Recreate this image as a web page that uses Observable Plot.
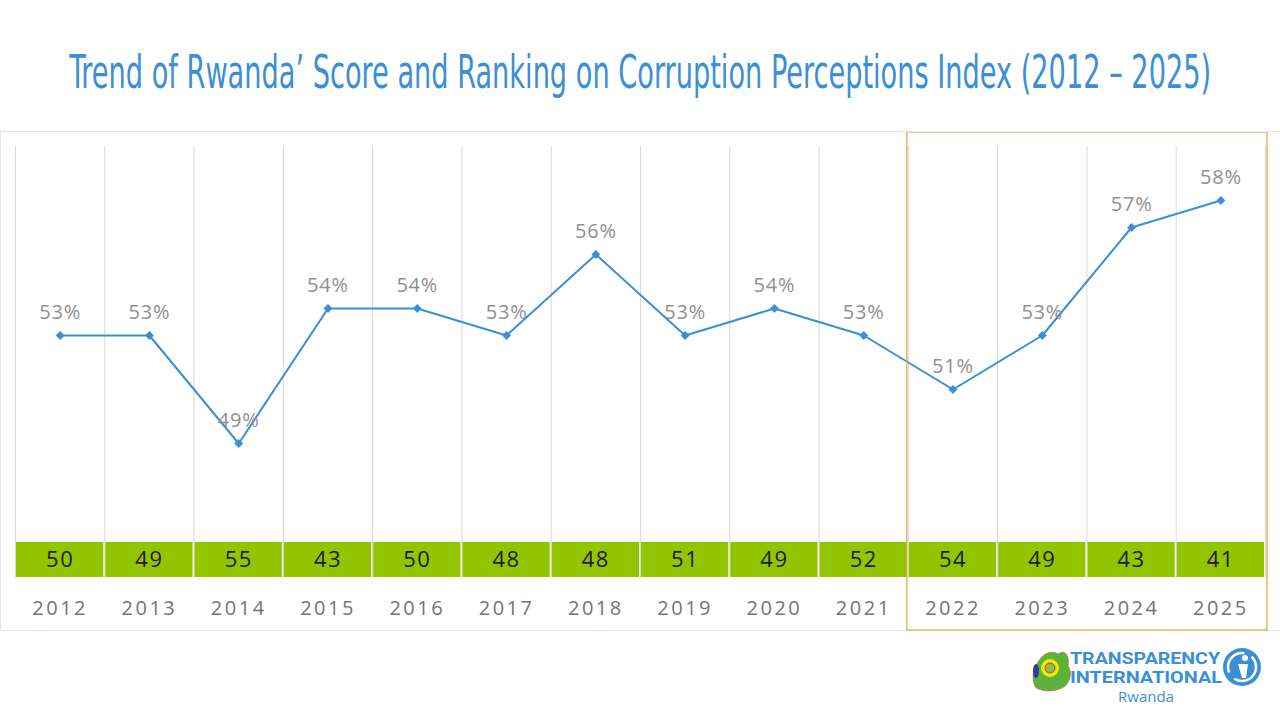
<!DOCTYPE html>
<html>
<head>
<meta charset="utf-8">
<script src="https://cdn.jsdelivr.net/npm/d3@7"></script>
<script src="https://cdn.jsdelivr.net/npm/@observablehq/plot@0.6"></script>
<style>
  html, body { margin: 0; padding: 0; background: #fff; width: 1280px; height: 720px; overflow: hidden; }
  #title { position: absolute; left: 0; top: 44px; width: 1280px; display: flex; justify-content: center;
    font-family: "Liberation Sans Narrow", "DejaVu Sans Condensed", "Roboto", sans-serif;
    font-size: 46px; color: #3C8FD6; white-space: nowrap; line-height: 56px; }
  #title span { display: inline-block; flex: none; transform-origin: center; }
  #panel { position: absolute; left: 0; top: 131px; width: 1279px; height: 498px; border: 1px solid #e8e8e8; }
  #chart { position: absolute; left: 0; top: 132px; }
  #logo { position: absolute; left: 1028px; top: 644px; width: 240px; height: 64px; }
</style>
</head>
<body>
<div id="title"><span id="titleText">Trend of Rwanda’ Score and Ranking on Corruption Perceptions Index (2012 – 2025)</span></div>
<div id="panel"></div>
<div id="chart"></div>
<div id="logo">
  <svg width="240" height="64" viewBox="0 0 240 64">
    <path d="M8,22 C14,8 24,6 30,10 C38,4 42,14 40,22 C46,30 40,42 34,44 C26,48 16,48 8,44 C4,38 4,28 8,22 Z" fill="#5DB33A" stroke="#c0392b" stroke-width="0.8" stroke-dasharray="1,1"/>
    <ellipse cx="8" cy="27" rx="3" ry="7" fill="#2E3D9C"/>
    <circle cx="22" cy="24" r="9" fill="#F2E500"/>
    <circle cx="22" cy="24" r="5" fill="#9DB64A" stroke="#6b6b20" stroke-width="1"/>
    <text x="42" y="20" font-family="Roboto, 'Open Sans', sans-serif" font-weight="700" font-size="17" fill="#3A8FD6" textLength="150" lengthAdjust="spacingAndGlyphs">TRANSPARENCY</text>
    <text x="42" y="39" font-family="Roboto, 'Open Sans', sans-serif" font-weight="700" font-size="17" fill="#3A8FD6" textLength="152" lengthAdjust="spacingAndGlyphs">INTERNATIONAL</text>
    <text x="90" y="58" font-family="'Open Sans', sans-serif" font-size="15" fill="#3A8FD6">Rwanda</text>
    <circle cx="214" cy="23" r="19" fill="#3A8FD6"/>
    <circle cx="214" cy="23" r="14" fill="none" stroke="#fff" stroke-width="2.5" stroke-dasharray="30,8"/>
    <circle cx="217" cy="14" r="3" fill="#fff"/>
    <path d="M210,20 L220,20 L218,34 L214,34 Z" fill="#fff"/>
  </svg>
</div>
<script>
const years = [2012, 2013, 2014, 2015, 2016, 2017, 2018, 2019, 2020, 2021, 2022, 2023, 2024, 2025];
const scores = [53, 53, 49, 54, 54, 53, 56, 53, 54, 53, 51, 53, 57, 58];
const ranks = [50, 49, 55, 43, 50, 48, 48, 51, 49, 52, 54, 49, 43, 41];
const highlightYears = [2022, 2025];

const data = years.map((y, i) => ({year: y, score: scores[i], rank: ranks[i]}));
const boundaries = d3.range(years[0] - 0.5, years[years.length - 1] + 1, 1);

const plot = Plot.plot({
  width: 1280,
  height: 499,
  marginLeft: 15,
  marginRight: 15,
  marginTop: 14,
  marginBottom: 53,
  x: {domain: [years[0] - 0.5, years[years.length - 1] + 0.5], axis: null},
  y: {domain: [44, 60], axis: null},
  style: {fontFamily: "'Open Sans', sans-serif", background: "transparent"},
  marks: [
    Plot.ruleX(boundaries, {x: d => d, stroke: "#d9d9d9", strokeWidth: 1}),
    Plot.rect(data, {x1: d => d.year - 0.5, x2: d => d.year + 0.5, fill: "#92C500", insetTop: 396, insetBottom: 1, insetLeft: 1, insetRight: 1}),
    Plot.text(data, {x: "year", text: d => String(d.rank), frameAnchor: "bottom", dy: -19, lineAnchor: "middle", fontSize: 22, fill: "#1c1c1c"}),
    Plot.text(data, {x: "year", text: d => String(d.year), frameAnchor: "bottom", dy: 30, lineAnchor: "middle", fontSize: 20, fill: "#747474"}),
    Plot.line(data, {x: "year", y: "score", stroke: "#3A8FD6", strokeWidth: 2}),
    Plot.dot(data, {x: "year", y: "score", symbol: "diamond2", r: 4, fill: "#3A8FD6", stroke: "none"}),
    Plot.text(data, {x: "year", y: "score", text: d => d.score + "%", dy: -23, lineAnchor: "middle", fontSize: 20, fill: "#8f8f8f"}),
    Plot.rect([highlightYears], {x1: d => d[0] - 0.5, x2: d => d[1] + 0.5, fill: "none", stroke: "#E9A23B", strokeWidth: 1.2, insetTop: -14, insetBottom: -52, insetLeft: -1, insetRight: -2})
  ]
});
document.getElementById("chart").appendChild(plot);

// letter spacing for the three text layers (ranks, years, scores)
const textGroups = plot.querySelectorAll('g[aria-label="text"]');
const spacings = ["1.5px", "2.5px", "0.8px"];
textGroups.forEach((g, i) => {
  g.querySelectorAll("text").forEach(el => el.setAttribute("letter-spacing", spacings[i] || "0"));
});

const t = document.getElementById("titleText");
const w = t.getBoundingClientRect().width;
t.style.transform = `scaleX(${1142 / w})`;
</script>
</body>
</html>
